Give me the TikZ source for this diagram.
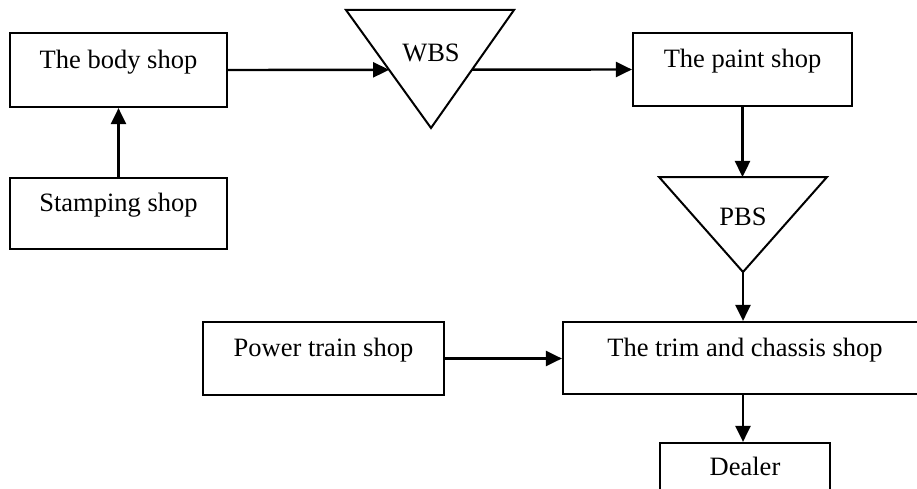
\documentclass[tikz,border=0pt]{standalone}
\usepackage{fontspec}
\setmainfont{Liberation Serif}
\usetikzlibrary{arrows.meta,calc}

\tikzset{
  shopbox/.style={draw, line width=2.2pt, rectangle, inner sep=0pt},
  boxtext/.style={anchor=base, inner sep=0pt, font=\fontsize{26.5}{30}\selectfont},
  buffer/.style={draw, line width=2pt, line join=miter},
  flow/.style={line width=2.4pt, -{Triangle[length=16pt,width=15pt]}},
}

\begin{document}
\begin{tikzpicture}[x=1pt, y=-1pt]
  \useasboundingbox (0,0) rectangle (917,489);
  \clip (0,0) rectangle (917,489);

  % shops
  \node[shopbox, minimum width=217pt, minimum height=74pt] (body)     at (118.5,70)  {};
  \node[shopbox, minimum width=217pt, minimum height=71pt] (stamping) at (118.5,213.5) {};
  \node[shopbox, minimum width=219pt, minimum height=73pt] (paint)    at (742.5,69.5) {};
  \node[shopbox, minimum width=241pt, minimum height=73pt] (power)    at (323.5,358.5) {};
  \node[shopbox, minimum width=364pt, minimum height=72pt] (trim)     at (745,358)   {};
  \node[shopbox, minimum width=170pt, minimum height=72pt] (dealer)   at (745,479)   {};

  \node[boxtext] (bodyt)     at ([yshift=-37pt]body.north)     {The body shop};
  \node[boxtext] (stampingt) at ([yshift=-35pt]stamping.north) {Stamping shop};
  \node[boxtext] (paintt)    at ([yshift=-36pt]paint.north)    {The paint shop};
  \node[boxtext] (powert)    at ([yshift=-36pt]power.north)    {Power train shop};
  \node[boxtext] (trimt)     at ([yshift=-36pt]trim.north)     {The trim and chassis shop};
  \node[boxtext] (dealert)   at ([yshift=-34pt]dealer.north)   {Dealer};

  % buffers (inverted triangles)
  \coordinate (wl) at (346,10);
  \coordinate (wr) at (514,10);
  \coordinate (wa) at (431,128);
  \draw[buffer] (wl) -- (wr) -- (wa) -- cycle;
  \node[boxtext] (wbs) at (431,62) {WBS};

  \coordinate (pl) at (659,177);
  \coordinate (pr) at (827,177);
  \coordinate (pa) at (743,272);
  \draw[buffer] (pl) -- (pr) -- (pa) -- cycle;
  \node[boxtext] (pbs) at (743,225) {PBS};

  % material flow
  \coordinate (win)  at (intersection of wl--wa and body.east--paint.west);
  \coordinate (wout) at (intersection of wr--wa and body.east--paint.west);
  \draw[flow] (stamping.north) -- (body.south);
  \draw[flow] (body.east) -- (win);
  \draw[flow] (wout) -- (paint.west);
  \draw[flow] (paint.south) -- (paint.south |- pl);
  \draw[flow] (pa) -- (pa |- trim.north);
  \draw[flow] (power.east) -- (trim.west |- power.east);
  \draw[flow] (trim.south -| pa) -- (dealer.north -| pa);
\end{tikzpicture}
\end{document}
